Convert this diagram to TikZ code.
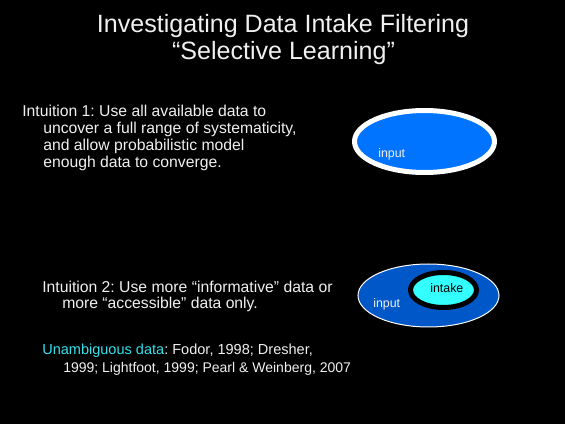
\documentclass[tikz,border=0pt]{standalone}
\usepackage{fontspec}
\setmainfont{Liberation Sans}
\usetikzlibrary{shapes.geometric}
\frenchspacing
\definecolor{inputA}{RGB}{0,115,255}
\definecolor{inputB}{RGB}{0,88,200}
\definecolor{intakeC}{RGB}{51,255,255}
\definecolor{unamb}{RGB}{51,225,235}
\definecolor{txt}{RGB}{240,240,240}
\tikzset{
  title/.style={text=txt,font=\fontsize{18.8}{22}\selectfont,anchor=base,inner sep=0},
  body/.style={text=txt,font=\fontsize{11.8}{14}\selectfont,anchor=base west,inner sep=0},
  refs/.style={text=txt,font=\fontsize{10.9}{13}\selectfont,anchor=base west,inner sep=0},
  refsb/.style={text=txt,font=\fontsize{10.5}{13}\selectfont,anchor=base west,inner sep=0},
  small/.style={font=\fontsize{9.3}{11}\selectfont,inner sep=0},
}
\begin{document}
\begin{tikzpicture}[x=0.75pt,y=-0.75pt]
\fill[black] (0,0) rectangle (565,424);
\useasboundingbox (0,0) rectangle (565,424);
% titles
\node[title] (t1) at (283,33) {Investigating Data Intake Filtering};
\node[title] (t2) at (283.5,60) {“Selective Learning”};
% intuition 1
\node[body] (i1a) at (22,117) {Intuition 1: Use all available data to};
\node[body] (i1b) at (43,134) {uncover a full range of systematicity,};
\node[body] (i1c) at (43,151) {and allow probabilistic model};
\node[body] (i1d) at (43,168) {enough data to converge.};
% intuition 2
\node[body] (i2a) at (42,293) {Intuition 2: Use more “informative” data or};
\node[body] (i2b) at (62,309) {more “accessible” data only.};
% references
\node[refs] (r1) at (42,355) {\textcolor{unamb}{Unambiguous data}: Fodor, 1998; Dresher,};
\node[refsb] (r2) at (63,373) {1999; Lightfoot, 1999; Pearl \& Weinberg, 2007};
% ellipse 1
\node[ellipse,draw=white,fill=inputA,line width=3.75pt,minimum width=105pt,minimum height=46.5pt,inner sep=0] (e1) at (424.5,141.5) {};
\node[small,text=txt,anchor=base west] (e1t) at (378,158) {input};
% ellipse 2
\node[ellipse,draw=white,fill=inputB,line width=0.75pt,minimum width=105.75pt,minimum height=47.25pt,inner sep=0] (e2) at (428.5,295.5) {};
\node[small,text=txt,anchor=base west] (e2t) at (373,308) {input};
\node[ellipse,draw=black,fill=intakeC,line width=3.75pt,minimum width=49.5pt,minimum height=26.25pt,inner sep=0] (e3) at (443.5,290) {};
\node[small,text=black,anchor=base west] (e3t) at (430,293) {intake};
\end{tikzpicture}
\end{document}
